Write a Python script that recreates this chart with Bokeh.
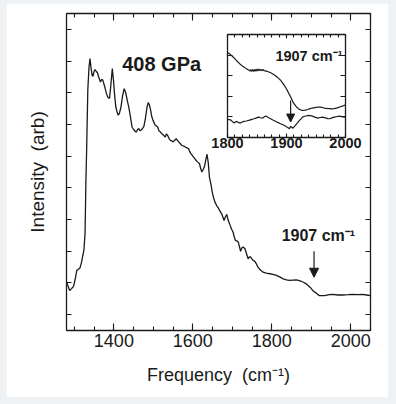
from bokeh.plotting import figure
from bokeh.models import (Range1d, FixedTicker, SingleIntervalTicker, LinearAxis,
                          Arrow, NormalHead, Label)
from bokeh.embed import file_html
from bokeh.resources import INLINE

FONT = "Liberation Sans"

# ---------------- data ----------------
freq = [1280, 1284, 1288, 1293, 1298, 1303, 1306, 1310, 1314, 1318, 1321, 1324, 1327,
        1329, 1331, 1334, 1337, 1339.5, 1342, 1345, 1347, 1350, 1352, 1355, 1358, 1362,
        1366, 1369, 1372, 1377, 1381, 1385, 1389, 1392, 1396, 1399, 1402, 1405, 1408,
        1411, 1414, 1418, 1422, 1426, 1430, 1434, 1438, 1442, 1446, 1450, 1454, 1457,
        1460, 1463, 1466, 1469, 1473, 1476, 1480, 1484, 1487, 1490, 1493, 1496, 1499,
        1502, 1505, 1508, 1511, 1514, 1518, 1522, 1526, 1530, 1533, 1536, 1540, 1543,
        1547, 1550, 1554, 1558, 1561, 1564, 1568, 1572, 1576, 1581, 1585, 1589, 1592,
        1595, 1599, 1602, 1605, 1608, 1612, 1617, 1620, 1623, 1627, 1630, 1633, 1636,
        1639, 1642, 1646, 1649, 1652, 1656, 1660, 1664, 1668, 1673, 1676, 1679, 1683,
        1686, 1689, 1692, 1695, 1698, 1702, 1705, 1708, 1712, 1715, 1718, 1721, 1724,
        1726, 1729, 1732, 1736, 1740, 1743, 1746, 1750, 1753, 1757, 1761, 1765, 1768,
        1772, 1778, 1786, 1795, 1803, 1812, 1820, 1829, 1837, 1845, 1853, 1862, 1870,
        1879, 1886, 1892, 1898, 1904, 1909, 1913, 1917, 1921, 1928, 1934, 1945, 1955,
        1967, 1980, 1993, 2005, 2018, 2030, 2040, 2050]
intensity = [1.53, 1.40, 1.26, 1.32, 1.40, 1.68, 1.89, 1.93, 1.97, 2.15, 2.35, 2.53, 3.05,
             4.60, 5.70, 7.60, 8.30, 8.58, 8.30, 8.05, 8.02, 8.18, 8.23, 8.18, 8.14, 7.98,
             7.84, 7.92, 7.90, 7.68, 7.48, 7.35, 7.32, 7.70, 8.26, 7.90, 7.40, 7.05, 6.90,
             6.79, 6.85, 7.05, 7.40, 7.63, 7.50, 7.25, 7.03, 6.74, 6.42, 6.34, 6.28, 6.26,
             6.34, 6.37, 6.30, 6.32, 6.38, 6.44, 6.70, 7.05, 7.19, 7.12, 6.95, 6.75, 6.63,
             6.55, 6.47, 6.45, 6.42, 6.30, 6.26, 6.20, 6.16, 6.10, 6.20, 6.16, 6.05, 6.00,
             5.98, 5.95, 6.00, 6.05, 6.00, 5.95, 5.90, 5.84, 5.82, 5.79, 5.76, 5.74, 5.65,
             5.58, 5.52, 5.47, 5.42, 5.37, 5.32, 5.26, 5.10, 5.00, 5.10, 5.20, 5.40, 5.56,
             5.30, 4.84, 4.60, 4.38, 4.21, 4.05, 3.95, 3.88, 3.78, 3.68, 3.58, 3.47, 3.60,
             3.66, 3.50, 3.40, 3.30, 3.20, 3.10, 2.95, 2.84, 2.82, 2.79, 2.65, 2.50, 2.60,
             2.63, 2.62, 2.58, 2.42, 2.26, 2.32, 2.32, 2.25, 2.21, 2.18, 2.10, 2.00, 1.95,
             1.90, 1.84, 1.81, 1.79, 1.77, 1.74, 1.69, 1.63, 1.60, 1.58, 1.59, 1.60, 1.57,
             1.53, 1.48, 1.42, 1.35, 1.26, 1.21, 1.18, 1.13, 1.10, 1.10, 1.10, 1.13, 1.14,
             1.12, 1.12, 1.13, 1.14, 1.13, 1.14, 1.12, 1.10]

inset_freq_upper = [1800, 1803, 1806, 1809, 1812, 1815, 1818, 1821, 1824, 1827, 1830, 1833,
                    1836, 1838, 1839.7, 1841.4, 1843.1, 1844.8, 1846.5, 1848.2, 1849.9,
                    1851.6, 1853.3, 1855, 1856.7, 1858.4, 1860.1, 1862, 1866, 1870, 1874,
                    1879, 1883, 1887, 1890, 1893, 1896, 1899, 1902, 1905, 1908, 1911, 1914,
                    1917, 1920, 1924, 1928, 1932, 1936, 1940, 1944, 1950, 1956, 1960, 1964,
                    1968, 1973, 1977, 1981, 1986, 1990, 1995, 2000]
inset_upper = [4.12, 4.08, 4.00, 3.92, 3.84, 3.74, 3.66, 3.57, 3.50, 3.44, 3.38, 3.32,
               3.28, 3.22, 3.30, 3.21, 3.30, 3.21, 3.31, 3.22, 3.32, 3.23, 3.32, 3.24,
               3.31, 3.24, 3.30, 3.25, 3.22, 3.18, 3.13, 3.05, 2.96, 2.86, 2.78, 2.66,
               2.54, 2.40, 2.25, 2.08, 1.92, 1.72, 1.60, 1.48, 1.40, 1.34, 1.31, 1.33,
               1.36, 1.40, 1.43, 1.46, 1.48, 1.46, 1.43, 1.41, 1.40, 1.39, 1.40, 1.44,
               1.48, 1.52, 1.59]

inset_freq_lower = [1800, 1805, 1808, 1811, 1814, 1816, 1819, 1822, 1825, 1828, 1832, 1836,
                    1840, 1845, 1849, 1853, 1856, 1859, 1862, 1865, 1869, 1873, 1877, 1882,
                    1886, 1890, 1894, 1899, 1902, 1905, 1907, 1909, 1911, 1914, 1916, 1919,
                    1922, 1925, 1927, 1931, 1936, 1940, 1944, 1948, 1953, 1957, 1961, 1966,
                    1970, 1973, 1977, 1981, 1986, 1990, 1995, 2000]
inset_lower = [0.88, 0.86, 0.78, 0.71, 0.76, 0.78, 0.72, 0.70, 0.75, 0.78, 0.80, 0.83,
               0.87, 0.91, 0.95, 0.99, 0.96, 0.94, 1.00, 1.04, 0.97, 0.91, 0.85, 0.78,
               0.72, 0.67, 0.62, 0.55, 0.48, 0.42, 0.54, 0.50, 0.45, 0.55, 0.62, 0.72,
               0.83, 0.92, 0.99, 1.03, 1.07, 1.06, 1.04, 0.99, 0.94, 0.97, 0.99, 0.95,
               0.92, 0.91, 0.95, 0.99, 1.02, 1.04, 1.00, 0.99]

main_y_ticks = [i + 0.5 for i in range(10)]
pressure_label = "408 GPa"
mode_label = "1907 cm\u207b\u00b9"
x_title = "Frequency\u00a0 (cm\u207b\u00b9)"
y_title = "Intensity\u00a0 (arb)"
mode_freq = 1907

INK = "#1a1a1a"


def style_axis(ax, major_in, minor_in, show_labels, label_size="18px", bold=False):
    ax.axis_line_color = None
    ax.major_tick_in = major_in
    ax.major_tick_out = 0
    ax.minor_tick_in = minor_in
    ax.minor_tick_out = 0
    ax.major_tick_line_color = INK
    ax.minor_tick_line_color = INK
    ax.major_tick_line_width = 1.1
    ax.minor_tick_line_width = 1.1
    ax.major_label_text_font = FONT
    ax.major_label_text_font_style = "bold" if bold else "normal"
    ax.major_label_standoff = 0
    if show_labels:
        ax.major_label_text_color = INK
        ax.major_label_text_font_size = label_size
    else:
        ax.major_label_text_color = None
        ax.major_label_text_font_size = "1px"


# ---------------- main figure ----------------
p = figure(name="main", width=382, height=394,
           x_range=Range1d(1280, 2050), y_range=Range1d(0, 10),
           output_backend="svg", toolbar_location=None,
           min_border_left=60, min_border_right=18, min_border_top=10, min_border_bottom=67)
p.grid.visible = False
p.outline_line_color = INK
p.outline_line_width = 1.3
p.background_fill_color = "white"
p.border_fill_color = "white"

x_ticker = SingleIntervalTicker(interval=200, num_minor_ticks=4)
y_ticker = FixedTicker(ticks=main_y_ticks, minor_ticks=[])

xb = p.xaxis[0]
xb.ticker = x_ticker
style_axis(xb, 7, 4, True)
xb.major_label_standoff = 3
xb.axis_label = x_title
xb.axis_label_text_font = FONT
xb.axis_label_text_font_style = "normal"
xb.axis_label_text_font_size = "18px"
xb.axis_label_text_color = INK
xb.axis_label_standoff = 15

yl = p.yaxis[0]
yl.ticker = y_ticker
style_axis(yl, 5, 0, False)
yl.axis_label = y_title
yl.axis_label_text_font = FONT
yl.axis_label_text_font_style = "normal"
yl.axis_label_text_font_size = "19px"
yl.axis_label_text_color = INK
yl.axis_label_standoff = 19

xt = LinearAxis(ticker=x_ticker)
style_axis(xt, 7, 4, False)
p.add_layout(xt, "above")
yr = LinearAxis(ticker=y_ticker)
style_axis(yr, 5, 0, False)
p.add_layout(yr, "right")

p.line(freq, intensity, line_color=INK, line_width=1.3)

p.add_layout(Arrow(end=NormalHead(size=9, fill_color=INK, line_color=INK, line_width=1),
                   x_start=mode_freq, y_start=2.5, x_end=mode_freq, y_end=1.68,
                   line_color=INK, line_width=1.2))
p.add_layout(Label(x=1918, y=3.0, text=mode_label, text_font=FONT, text_font_style="bold",
                   text_font_size="16px", text_align="center", text_baseline="alphabetic",
                   text_color=INK))
p.add_layout(Label(x=1521, y=8.4, text=pressure_label, text_font=FONT, text_font_style="bold",
                   text_font_size="20px", text_align="center", text_baseline="alphabetic",
                   text_color=INK))

# ---------------- inset figure ----------------
inset = figure(name="inset", width=158, height=127,
               x_range=Range1d(1800, 2000), y_range=Range1d(0, 5),
               output_backend="svg", toolbar_location=None,
               min_border_left=20, min_border_right=20, min_border_top=4, min_border_bottom=20)
inset.grid.visible = False
inset.outline_line_color = INK
inset.outline_line_width = 1.3
inset.background_fill_color = "white"
inset.border_fill_alpha = 0

ix_ticker = SingleIntervalTicker(interval=100, num_minor_ticks=8)
iy_ticker = SingleIntervalTicker(interval=1, num_minor_ticks=0)
ixb = inset.xaxis[0]
ixb.ticker = ix_ticker
style_axis(ixb, 4, 3, True, label_size="14.5px", bold=True)
iyl = inset.yaxis[0]
iyl.ticker = iy_ticker
style_axis(iyl, 5, 0, False)
ixt = LinearAxis(ticker=ix_ticker)
style_axis(ixt, 4, 3, False)
inset.add_layout(ixt, "above")
iyr = LinearAxis(ticker=iy_ticker)
style_axis(iyr, 5, 0, False)
inset.add_layout(iyr, "right")

inset.line(inset_freq_upper, inset_upper, line_color=INK, line_width=1.2)
inset.line(inset_freq_lower, inset_lower, line_color=INK, line_width=1.2)
inset.add_layout(Arrow(end=NormalHead(size=8, fill_color=INK, line_color=INK, line_width=1),
                       x_start=mode_freq, y_start=1.8, x_end=mode_freq, y_end=0.75,
                       line_color=INK, line_width=1.2))
inset.add_layout(Label(x=1938, y=3.96, text=mode_label, text_font=FONT, text_font_style="bold",
                       text_font_size="14.5px", text_align="center", text_baseline="alphabetic",
                       text_color=INK))

template = """
{% block postamble %}
<style>
html, body { margin: 0; padding: 0; background: #eef2f5; }
.pane-main { position: absolute; left: 6px; top: 3px; }
.pane-inset { position: absolute; left: 207px; top: 30px; }
</style>
{% endblock %}
{% block contents %}
<div class="pane-main">{{ embed(roots.main) }}</div>
<div class="pane-inset">{{ embed(roots.inset) }}</div>
{% endblock %}
"""

open("out.html", "w").write(file_html([p, inset], INLINE, template=template))
